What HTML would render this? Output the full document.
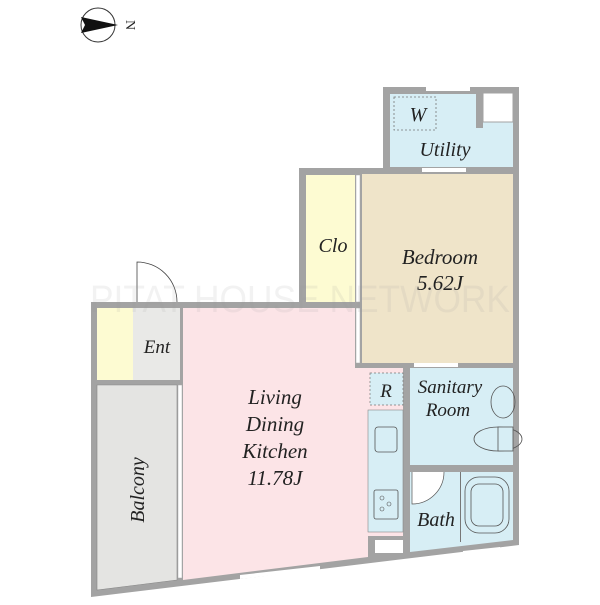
<!DOCTYPE html>
<html><head><meta charset="utf-8"><style>
html,body{margin:0;padding:0;background:#fff;}
svg text{font-family:"Liberation Serif",serif;font-style:italic;fill:#222;}
</style></head><body>
<svg width="600" height="600" viewBox="0 0 600 600" xmlns="http://www.w3.org/2000/svg">
<rect width="600" height="600" fill="#fff"/>
<!-- compass -->
<circle cx="98" cy="25" r="17" fill="#fff" stroke="#333" stroke-width="1"/>
<polygon points="81,17 118,25 81,33 85,25" fill="#111"/>
<text x="0" y="0" font-size="14" style="font-style:normal" transform="translate(126,25) rotate(90)" text-anchor="middle">N</text>
<!-- outer walls -->
<polygon points="91,302 299,302 299,168 383,168 383,87 519,87 519,545 91,597" fill="#a3a3a3"/>
<!-- utility -->
<rect x="390" y="94" width="123" height="73" fill="#d7eef5"/>
<rect x="483" y="93" width="30" height="29" fill="#fff" stroke="#a3a3a3" stroke-width="1"/>
<rect x="476" y="93" width="7" height="35" fill="#a3a3a3"/>
<rect x="394" y="97" width="42" height="33" fill="none" stroke="#777" stroke-width="0.8" stroke-dasharray="2,2"/>
<text x="418" y="121" font-size="20" text-anchor="middle">W</text>
<text x="445" y="156" font-size="20" text-anchor="middle">Utility</text>
<rect x="426" y="87" width="44" height="4" fill="#fff"/>
<rect x="422" y="168" width="44" height="4" fill="#fff"/>
<!-- clo -->
<rect x="306" y="175" width="49" height="127" fill="#fdfbd2"/>
<rect x="356" y="175" width="4" height="127" fill="#fff" stroke="#aaa" stroke-width="0.5"/>
<text x="333" y="252" font-size="20" text-anchor="middle">Clo</text>
<!-- bedroom -->
<rect x="362" y="174" width="151" height="189" fill="#efe4c9"/>
<text x="440" y="264" font-size="21" text-anchor="middle">Bedroom</text>
<text x="440" y="290" font-size="21" text-anchor="middle">5.62J</text>
<rect x="356" y="308" width="4" height="55" fill="#fff" stroke="#aaa" stroke-width="0.5"/>
<rect x="414" y="363" width="44" height="4" fill="#fff"/>
<!-- ent -->
<rect x="97" y="308" width="36" height="72" fill="#fdfbd2"/>
<rect x="133" y="308" width="47" height="72" fill="#e9e9e7"/>
<text x="157" y="353" font-size="19" text-anchor="middle">Ent</text>
<path d="M137,302 L137,262 A40,40 0 0 1 177,302" fill="#fff" stroke="#444" stroke-width="0.8"/>
<!-- balcony -->
<polygon points="97,385 177,385 177,580 97,590" fill="#e4e4e2" stroke="#888" stroke-width="0.6"/>
<text x="0" y="0" font-size="20" text-anchor="middle" transform="translate(144,490) rotate(-90)">Balcony</text>
<rect x="178" y="385" width="4" height="193" fill="#fff" stroke="#aaa" stroke-width="0.5"/>
<!-- LDK -->
<polygon points="183,308 355,308 355,368 368,368 368,557 183,580" fill="#fce4e7"/>
<text x="275" y="404" font-size="21" text-anchor="middle">Living</text>
<text x="275" y="431" font-size="21" text-anchor="middle">Dining</text>
<text x="275" y="458" font-size="21" text-anchor="middle">Kitchen</text>
<text x="275" y="485" font-size="21" text-anchor="middle">11.78J</text>
<!-- R and kitchen -->
<rect x="368" y="368" width="35" height="168" fill="#fce4e7"/>
<rect x="370" y="373" width="33" height="32" fill="#d7eef5" stroke="#777" stroke-width="0.7" stroke-dasharray="2,2"/>
<text x="386" y="397" font-size="19" text-anchor="middle">R</text>
<rect x="368" y="410" width="35" height="122" fill="#d7eef5" stroke="#888" stroke-width="0.6"/>
<rect x="375" y="427" width="22" height="25" rx="3" fill="none" stroke="#555" stroke-width="0.8"/>
<rect x="374" y="490" width="24" height="29" rx="2" fill="none" stroke="#555" stroke-width="0.8"/>
<circle cx="382" cy="498" r="2" fill="none" stroke="#555" stroke-width="0.6"/>
<circle cx="389" cy="504" r="2" fill="none" stroke="#555" stroke-width="0.6"/>
<circle cx="382" cy="509" r="2" fill="none" stroke="#555" stroke-width="0.6"/>
<rect x="375" y="540" width="28" height="13" fill="#fff"/>
<!-- sanitary -->
<rect x="410" y="368" width="103" height="97" fill="#d7eef5"/>
<text x="450" y="393" font-size="19" text-anchor="middle">Sanitary</text>
<text x="448" y="416" font-size="19" text-anchor="middle">Room</text>
<ellipse cx="503" cy="402" rx="12" ry="16" fill="none" stroke="#555" stroke-width="0.8"/>
<ellipse cx="498" cy="439" rx="24" ry="12" fill="none" stroke="#555" stroke-width="0.8"/>
<rect x="498" y="427" width="15" height="24" fill="#d7eef5" stroke="#555" stroke-width="0.8"/>
<!-- bath -->
<rect x="410" y="465" width="103" height="7" fill="#a3a3a3"/>
<polygon points="410,472 513,472 513,540 410,552" fill="#d7eef5"/>
<path d="M412,472 L412,504 A32,32 0 0 0 444,472" fill="#fff" stroke="#555" stroke-width="0.7"/>
<rect x="460" y="472" width="1" height="70" fill="#777"/>
<rect x="465" y="477" width="44" height="56" rx="14" fill="none" stroke="#555" stroke-width="0.8"/>
<rect x="471" y="484" width="32" height="42" rx="8" fill="none" stroke="#555" stroke-width="0.8"/>
<text x="436" y="526" font-size="20" text-anchor="middle">Bath</text>
<!-- bottom windows -->
<polygon points="240,575 320,566 320,570 240,579" fill="#fff"/>
<polygon points="463,551 500,547 500,551 463,555" fill="#fff"/>
<!-- watermark -->
<text x="90" y="312" font-size="38" textLength="420" lengthAdjust="spacingAndGlyphs" style="font-family:'Liberation Sans',sans-serif;font-style:normal;fill:#999;opacity:0.12">PITAT HOUSE NETWORK</text>
</svg>
</body></html>
